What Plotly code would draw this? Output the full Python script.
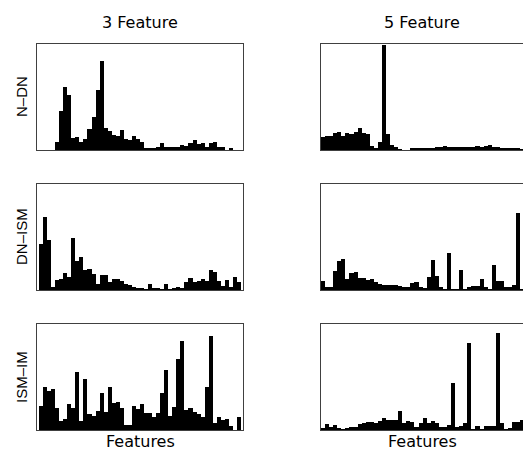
import plotly.graph_objects as go

col_titles = ["3 Feature", "5 Feature"]
row_labels = ["N–DN", "DN–ISM", "ISM–IM"]
x_label = "Features"
bins = list(range(50))

n_dn_3 = [0, 0, 0, 0, 7.7, 39, 63, 55, 12, 13, 8, 11, 21, 33, 60, 89, 22, 19, 15, 14,
          20, 11, 10, 14, 11, 8, 2, 2, 2, 3, 7, 3, 3, 3, 3, 5, 4, 7, 10, 6,
          7, 3, 7, 8, 3, 3, 0, 2, 0, 0]
n_dn_5 = [13, 14, 14, 17, 18, 14, 17, 16, 18, 22, 17, 16, 4, 2, 8, 105, 16, 5, 3, 1,
          0, 0, 1.5, 1.5, 2, 2, 2, 2, 3, 3, 4, 3, 3, 3, 3, 3, 3, 3, 4, 3,
          4, 5, 3, 3, 2, 1.5, 1.5, 1.5, 1.5, 1]
dn_ism_3 = [46, 73, 50, 3, 10, 11, 17, 13, 52, 29, 33, 20, 21, 16, 6, 15, 15, 8, 11, 11,
            9, 6, 5, 3, 2, 2, 1, 6, 2, 2, 1, 6, 1, 2, 3, 2, 8, 12, 8, 9,
            11, 9, 20, 18, 9, 4, 10, 3, 13, 8]
dn_ism_5 = [9, 3, 3, 19, 29, 31, 11, 17, 18, 12, 12, 10, 11, 8, 6, 5, 5, 5, 5, 4,
            3, 3, 7, 8, 3, 2, 13, 30, 14, 3, 1, 37, 1, 1, 20, 1, 3, 4, 4, 11,
            3, 1, 25, 9, 9, 3, 3, 5, 77, 1]
ism_im_3 = [24, 43, 39, 41, 22, 9, 11, 26, 22, 58, 9, 51, 16, 14, 19, 37, 18, 43, 27, 28,
            22, 5, 5, 24, 21, 26, 17, 17, 13, 17, 37, 60, 14, 23, 71, 89, 20, 22, 18, 16,
            13, 43, 94, 7, 13, 10, 11, 4, 0, 13]
ism_im_5 = [2, 6, 3, 5, 2, 1, 2, 3, 3, 6, 7, 8, 8, 7, 9, 12, 10, 10, 10, 19,
            7, 9, 8, 3, 7, 12, 7, 9, 7, 3, 3, 5, 47, 3, 4, 7, 87, 1, 4, 1,
            4, 4, 4, 97, 7, 1, 2, 8, 8, 10]

grid = [[n_dn_3, n_dn_5], [dn_ism_3, dn_ism_5], [ism_im_3, ism_im_5]]

W, H = 523, 451
x_doms = [[37 / W, 243 / W], [321 / W, 1.0]]
y_pix = [(44, 150), (184, 290), (324, 430)]
y_doms = [[1 - b / H, 1 - t / H] for t, b in y_pix]
x_ranges = [[-1, 50], [-0.5, 49.2]]

fig = go.Figure()
line_col = "#404040"
ann = []
k = 0
for r in range(3):
    for c in range(2):
        k += 1
        xa = "x" if k == 1 else f"x{k}"
        ya = "y" if k == 1 else f"y{k}"
        fig.add_trace(go.Bar(x=bins, y=grid[r][c], marker=dict(color="black", line=dict(width=0)),
                             xaxis=xa, yaxis=ya, showlegend=False, hoverinfo="skip"))
        xkey = "xaxis" if k == 1 else f"xaxis{k}"
        ykey = "yaxis" if k == 1 else f"yaxis{k}"
        fig.layout[xkey] = dict(domain=x_doms[c], range=x_ranges[c], anchor=ya,
                                showline=True, mirror=True, linecolor=line_col, linewidth=1,
                                showticklabels=False, ticks="", showgrid=False, zeroline=False)
        fig.layout[ykey] = dict(domain=y_doms[r], range=[0, 106], anchor=xa,
                                showline=True, mirror=(c == 0), linecolor=line_col, linewidth=1,
                                showticklabels=False, ticks="", showgrid=False, zeroline=False)

for c in range(2):
    xc = (x_doms[c][0] + x_doms[c][1]) / 2 if c == 0 else 422 / W
    ann.append(dict(text=col_titles[c], x=xc, y=1 - 22 / H, xref="paper", yref="paper",
                    xanchor="center", yanchor="middle", showarrow=False,
                    font=dict(family="DejaVu Sans", size=16, color="black")))
    ann.append(dict(text=x_label, x=xc, y=1 - 441 / H, xref="paper", yref="paper",
                    xanchor="center", yanchor="middle", showarrow=False,
                    font=dict(family="DejaVu Sans", size=16, color="black")))
for r in range(3):
    t, b = y_pix[r]
    ann.append(dict(text=row_labels[r], x=21 / W, y=1 - (t + b) / 2 / H, xref="paper", yref="paper",
                    xanchor="center", yanchor="middle", showarrow=False, textangle=-90,
                    font=dict(family="Liberation Sans", size=15, color="black")))

fig.update_layout(width=W, height=H, margin=dict(l=0, r=0, t=0, b=0),
                  paper_bgcolor="white", plot_bgcolor="white", bargap=0,
                  annotations=ann)
fig.write_html("out.html", config={"displayModeBar": False},
               post_script="document.body.style.margin='0';document.body.style.overflow='hidden';")
